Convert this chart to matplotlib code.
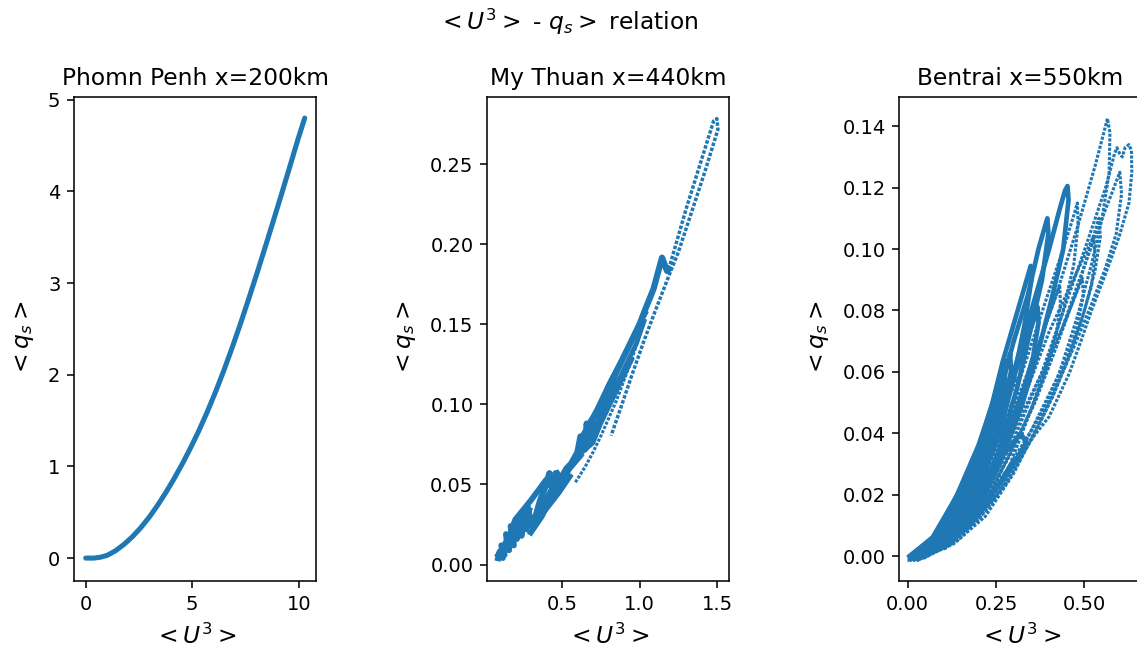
import matplotlib
matplotlib.use("Agg")
import matplotlib.pyplot as plt

C = '#1f77b4'

# ---------------- Phomn Penh ----------------
pp_u3 = [0.0, 0.39, 0.70, 1.01, 1.40, 1.80, 2.20, 2.58, 3.00, 3.36, 3.75, 4.14, 4.55, 4.92, 5.30,
         5.70, 6.10, 6.48, 6.90, 7.27, 7.65, 8.05, 8.45, 8.83, 9.20, 9.61, 9.95, 10.28]
pp_qs = [0.0, 0.0, 0.01, 0.03, 0.08, 0.15, 0.235, 0.33, 0.452, 0.571, 0.711, 0.863, 1.035, 1.202, 1.384,
         1.592, 1.816, 2.044, 2.313, 2.561, 2.827, 3.115, 3.411, 3.696, 3.977, 4.293, 4.558, 4.80]

# ---------------- My Thuan ----------------
mt_main_u3 = [0.09, 0.10, 0.13, 0.12, 0.16, 0.15, 0.19, 0.18, 0.21, 0.22, 0.24, 0.25, 0.27, 0.28,
              0.30, 0.33, 0.36, 0.40, 0.42, 0.44, 0.46, 0.47, 0.50, 0.53, 0.56, 0.60, 0.62, 0.65,
              0.66, 0.68, 0.69, 0.71, 0.75, 0.80, 0.85, 0.90, 0.95, 1.00, 1.04, 1.09, 1.145, 1.177, 1.188]
mt_main_qs = [0.004, 0.008, 0.006, 0.011, 0.009, 0.016, 0.012, 0.021, 0.016, 0.027, 0.018, 0.029, 0.022, 0.036,
              0.026, 0.030, 0.040, 0.050, 0.057, 0.045, 0.057, 0.050, 0.055, 0.060, 0.063, 0.070, 0.080, 0.072,
              0.088, 0.075, 0.090, 0.080, 0.095, 0.108, 0.120, 0.130, 0.140, 0.150, 0.160, 0.172, 0.1916, 0.1833, 0.1843]
mt_top_u3 = [1.188, 1.30, 1.40, 1.477, 1.498, 1.505, 1.42, 1.348, 1.25, 1.20, 1.10, 1.03, 0.95, 0.88, 0.817]
mt_top_qs = [0.1843, 0.222, 0.253, 0.2769, 0.2784, 0.2717, 0.245, 0.2238, 0.195, 0.183, 0.158, 0.140, 0.118, 0.098, 0.0805]
mt_desc_u3 = [1.03, 0.95, 0.85, 0.75, 0.70, 0.65, 0.585]
mt_desc_qs = [0.152, 0.128, 0.102, 0.080, 0.070, 0.061, 0.051]
mt_band1_u3 = [0.62, 0.70, 0.80, 0.90, 1.00, 1.04]
mt_band1_qs = [0.074, 0.090, 0.112, 0.130, 0.150, 0.157]
mt_band2_u3 = [0.60, 0.68, 0.78, 0.88, 0.98, 1.03]
mt_band2_qs = [0.066, 0.078, 0.098, 0.118, 0.138, 0.152]
mt_band3_u3 = [0.64, 0.72, 0.82, 0.92, 1.00]
mt_band3_qs = [0.082, 0.096, 0.116, 0.134, 0.150]
mt_band4_u3 = [0.56, 0.63, 0.70, 0.75, 0.85, 0.95]
mt_band4_qs = [0.063, 0.070, 0.076, 0.088, 0.108, 0.128]
mt_low1_u3 = [0.14, 0.20, 0.30, 0.40, 0.47]
mt_low1_qs = [0.012, 0.028, 0.040, 0.053, 0.057]
mt_low2_u3 = [0.30, 0.37, 0.45, 0.55, 0.62]
mt_low2_qs = [0.020, 0.030, 0.045, 0.060, 0.068]
mt_low3_u3 = [0.18, 0.25, 0.33, 0.40, 0.48, 0.55]
mt_low3_qs = [0.015, 0.022, 0.027, 0.035, 0.045, 0.055]
mt_low4_u3 = [0.10, 0.14, 0.20, 0.26, 0.30, 0.36, 0.43, 0.50]
mt_low4_qs = [0.006, 0.014, 0.018, 0.030, 0.024, 0.034, 0.046, 0.052]
mt_low5_u3 = [0.09, 0.12, 0.11, 0.15, 0.14, 0.18, 0.17, 0.21, 0.23, 0.22, 0.26, 0.25, 0.29]
mt_low5_qs = [0.006, 0.004, 0.012, 0.010, 0.019, 0.014, 0.024, 0.020, 0.030, 0.022, 0.032, 0.024, 0.034]

# ---------------- Bentrai ----------------
bt_cone_u3 = [0.005, 0.07, 0.136, 0.192, 0.24, 0.262, 0.28, 0.27, 0.25, 0.21, 0.16, 0.12, 0.08, 0.04, 0.005]
bt_cone_qs = [0.0, 0.006, 0.019, 0.032, 0.050, 0.060, 0.064, 0.050, 0.038, 0.024, 0.012, 0.006, 0.003, 0.001, -0.001]
bt_l1_u3 = [0.005, 0.07, 0.136, 0.192, 0.24, 0.268, 0.296, 0.348, 0.35, 0.33, 0.30, 0.26, 0.20, 0.14, 0.07, 0.01]
bt_l1_qs = [0.0, 0.006, 0.019, 0.032, 0.050, 0.063, 0.074, 0.0945, 0.090, 0.075, 0.058, 0.040, 0.022, 0.009, 0.002, -0.001]
bt_l2_u3 = [0.01, 0.08, 0.15, 0.21, 0.26, 0.30, 0.34, 0.37, 0.39, 0.395, 0.398, 0.38, 0.35, 0.31, 0.26, 0.20, 0.13, 0.05]
bt_l2_qs = [0.0, 0.006, 0.020, 0.036, 0.053, 0.070, 0.085, 0.100, 0.108, 0.110, 0.105, 0.090, 0.075, 0.055, 0.035, 0.018, 0.006, 0.0]
bt_l3_u3 = [0.01, 0.09, 0.17, 0.24, 0.30, 0.35, 0.40, 0.43, 0.445, 0.452, 0.455, 0.44, 0.41, 0.37, 0.32, 0.26, 0.19, 0.12, 0.03]
bt_l3_qs = [0.0, 0.006, 0.020, 0.040, 0.060, 0.080, 0.100, 0.113, 0.119, 0.1205, 0.116, 0.100, 0.085, 0.067, 0.048, 0.030, 0.014, 0.004, -0.001]
bt_l4_u3 = [0.02, 0.10, 0.18, 0.26, 0.33, 0.39, 0.44, 0.47, 0.48, 0.482, 0.47, 0.44, 0.40, 0.35, 0.29, 0.22, 0.14, 0.04]
bt_l4_qs = [0.0, 0.005, 0.018, 0.038, 0.062, 0.083, 0.100, 0.111, 0.115, 0.108, 0.095, 0.080, 0.065, 0.048, 0.030, 0.016, 0.005, -0.001]
bt_l5_u3 = [0.02, 0.11, 0.20, 0.28, 0.35, 0.42, 0.48, 0.53, 0.555, 0.565, 0.572, 0.57, 0.55, 0.52, 0.48, 0.43, 0.37, 0.30, 0.22, 0.13, 0.03]
bt_l5_qs = [0.0, 0.006, 0.020, 0.040, 0.062, 0.085, 0.107, 0.127, 0.138, 0.1425, 0.138, 0.125, 0.110, 0.095, 0.078, 0.060, 0.043, 0.027, 0.013, 0.004, -0.001]
bt_l6_u3 = [0.02, 0.12, 0.22, 0.30, 0.38, 0.45, 0.51, 0.56, 0.585, 0.592, 0.60, 0.607, 0.615, 0.626, 0.633,
            0.634, 0.626, 0.598, 0.56, 0.52, 0.49, 0.457, 0.40, 0.334, 0.287, 0.211, 0.145, 0.108, 0.004]
bt_l6_qs = [0.0, 0.006, 0.020, 0.038, 0.060, 0.083, 0.103, 0.120, 0.131, 0.133, 0.131, 0.130, 0.133, 0.134, 0.132,
            0.125, 0.115, 0.104, 0.092, 0.080, 0.070, 0.0595, 0.0454, 0.0357, 0.0291, 0.015, 0.0064, 0.0026, -0.001]
bt_l7_u3 = [0.03, 0.12, 0.21, 0.29, 0.36, 0.42, 0.48, 0.52, 0.541, 0.545, 0.53, 0.50, 0.46, 0.41, 0.35, 0.28, 0.20, 0.12, 0.04]
bt_l7_qs = [0.0, 0.005, 0.017, 0.033, 0.050, 0.068, 0.087, 0.102, 0.110, 0.104, 0.093, 0.080, 0.066, 0.052, 0.038, 0.024, 0.012, 0.004, 0.0]
bt_l8_u3 = [0.03, 0.12, 0.20, 0.27, 0.33, 0.39, 0.44, 0.475, 0.494, 0.497, 0.48, 0.45, 0.41, 0.36, 0.30, 0.23, 0.15, 0.05]
bt_l8_qs = [0.0, 0.006, 0.018, 0.033, 0.048, 0.062, 0.075, 0.085, 0.0905, 0.085, 0.075, 0.063, 0.052, 0.040, 0.028, 0.016, 0.006, 0.0]
bt_l9_u3 = [0.01, 0.09, 0.16, 0.22, 0.28, 0.33, 0.36, 0.367, 0.37, 0.355, 0.33, 0.29, 0.24, 0.18, 0.11, 0.02]
bt_l9_qs = [0.0, 0.007, 0.020, 0.035, 0.052, 0.068, 0.078, 0.0812, 0.076, 0.065, 0.055, 0.042, 0.028, 0.014, 0.005, -0.001]
bt_l10_u3 = [0.01, 0.08, 0.14, 0.20, 0.25, 0.285, 0.29, 0.292, 0.27, 0.23, 0.17, 0.10, 0.02]
bt_l10_qs = [0.0, 0.007, 0.020, 0.036, 0.053, 0.064, 0.066, 0.060, 0.048, 0.033, 0.017, 0.005, 0.0]
bt_l11_u3 = [0.02, 0.10, 0.19, 0.27, 0.34, 0.40, 0.46, 0.505, 0.525, 0.53, 0.52, 0.49, 0.44, 0.38, 0.32, 0.25, 0.17, 0.08]
bt_l11_qs = [0.0, 0.005, 0.017, 0.035, 0.055, 0.073, 0.088, 0.099, 0.104, 0.098, 0.088, 0.076, 0.062, 0.048, 0.034, 0.020, 0.009, 0.002]
bt_l12_u3 = [0.01, 0.10, 0.18, 0.25, 0.32, 0.335, 0.30, 0.22, 0.13, 0.03]
bt_l12_qs = [0.0, 0.008, 0.020, 0.030, 0.040, 0.037, 0.030, 0.017, 0.006, 0.0]
bt_l13_u3 = [0.03, 0.13, 0.23, 0.32, 0.40, 0.47, 0.53, 0.58, 0.60, 0.605, 0.59, 0.56, 0.52, 0.47, 0.41, 0.35, 0.28, 0.20, 0.12, 0.04]
bt_l13_qs = [0.0, 0.006, 0.020, 0.040, 0.062, 0.085, 0.104, 0.119, 0.125, 0.118, 0.105, 0.094, 0.082, 0.068, 0.053, 0.041, 0.028, 0.015, 0.005, 0.0]
bt_l14_u3 = [0.02, 0.11, 0.19, 0.26, 0.32, 0.38, 0.42, 0.43, 0.432, 0.42, 0.39, 0.35, 0.30, 0.24, 0.17, 0.09, 0.02]
bt_l14_qs = [0.0, 0.007, 0.020, 0.037, 0.054, 0.072, 0.085, 0.088, 0.082, 0.072, 0.060, 0.048, 0.036, 0.022, 0.010, 0.003, 0.0]
bt_l15_u3 = [0.01, 0.08, 0.15, 0.22, 0.28, 0.31, 0.312, 0.29, 0.25, 0.19, 0.12, 0.04]
bt_l15_qs = [0.0, 0.006, 0.020, 0.036, 0.050, 0.058, 0.052, 0.042, 0.030, 0.017, 0.007, 0.001]

plt.rcParams['font.family'] = ['DejaVu Sans']
DPI = 140
fig = plt.figure(figsize=(1137 / DPI, 653 / DPI), dpi=DPI)
W, H = 1137.0, 653.0

def axes_at(x0, x1, y0, y1):
    return fig.add_axes([x0 / W, 1 - y1 / H, (x1 - x0) / W, (y1 - y0) / H])

ax1 = axes_at(74, 316, 97, 581)
ax2 = axes_at(487, 728.5, 97, 581)
ax3 = axes_at(899.3, 1141, 97, 581)

DOT = (0, (1.0, 0.5))

# Phomn Penh
ax1.plot(pp_u3, pp_qs, color=C, lw=2.6, solid_capstyle='round', solid_joinstyle='round')
ax1.set_xlim(-0.55, 10.81)
ax1.set_ylim(-0.25, 5.03)
ax1.set_title('Phomn Penh x=200km')

# My Thuan
ax2.plot(mt_main_u3, mt_main_qs, color=C, lw=3.2, solid_joinstyle='round')
ax2.plot(mt_top_u3, mt_top_qs, color=C, lw=1.8, ls=DOT)
ax2.plot(mt_desc_u3, mt_desc_qs, color=C, lw=1.6, ls=DOT)
for u, q in [(mt_band1_u3, mt_band1_qs), (mt_band2_u3, mt_band2_qs),
             (mt_band3_u3, mt_band3_qs), (mt_band4_u3, mt_band4_qs)]:
    ax2.plot(u, q, color=C, lw=2.4)
for u, q in [(mt_low1_u3, mt_low1_qs), (mt_low2_u3, mt_low2_qs),
             (mt_low3_u3, mt_low3_qs), (mt_low4_u3, mt_low4_qs), (mt_low5_u3, mt_low5_qs)]:
    ax2.plot(u, q, color=C, lw=3.0, solid_joinstyle='round')
ax2.set_xlim(0.018, 1.573)
ax2.set_ylim(-0.0103, 0.2919)
ax2.set_xticks([0.5, 1.0, 1.5])
ax2.set_title('My Thuan x=440km')

# Bentrai
ax3.fill(bt_cone_u3, bt_cone_qs, color=C, lw=2)
thick = [(bt_l1_u3, bt_l1_qs), (bt_l2_u3, bt_l2_qs), (bt_l3_u3, bt_l3_qs),
         (bt_l9_u3, bt_l9_qs), (bt_l10_u3, bt_l10_qs), (bt_l12_u3, bt_l12_qs)]
thin = [(bt_l4_u3, bt_l4_qs), (bt_l5_u3, bt_l5_qs), (bt_l6_u3, bt_l6_qs),
        (bt_l7_u3, bt_l7_qs), (bt_l8_u3, bt_l8_qs), (bt_l11_u3, bt_l11_qs),
        (bt_l13_u3, bt_l13_qs), (bt_l14_u3, bt_l14_qs), (bt_l15_u3, bt_l15_qs)]
for u, q in thick:
    ax3.plot(u, q, color=C, lw=2.4)
for u, q in thin:
    ax3.plot(u, q, color=C, lw=1.6, ls=DOT)
ax3.set_xlim(-0.0238, 0.660)
ax3.set_ylim(-0.0081, 0.1495)
ax3.set_xticks([0.0, 0.25, 0.5])
ax3.set_xticklabels(['0.00', '0.25', '0.50'])
ax3.set_title('Bentrai x=550km')

for ax in (ax1, ax2, ax3):
    ax.set_xlabel('$<U^3>$', fontsize=12, labelpad=5)
    ax.set_ylabel('$<q_s>$', fontsize=12, labelpad=6)

fig.suptitle('$<U^3>$ - $q_s>$ relation', y=1 - 22 / H, va='center')

fig.savefig('out.png', dpi=DPI)
